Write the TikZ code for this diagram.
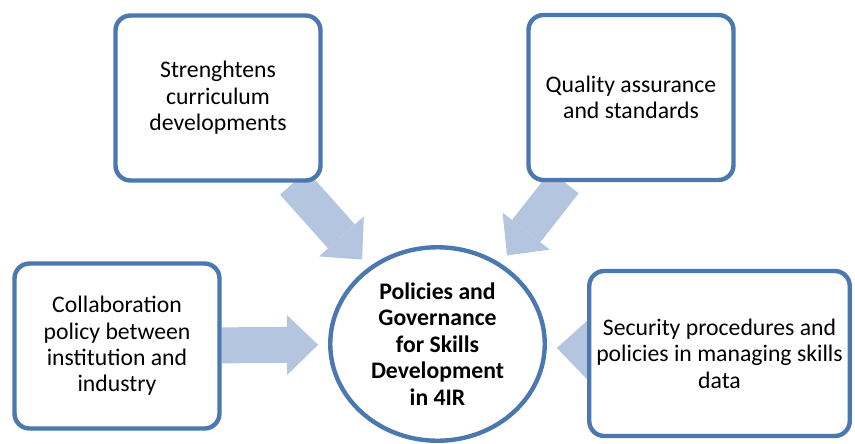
\documentclass[tikz,border=0pt]{standalone}
\usepackage{fontspec}
\setmainfont{Carlito}
\usetikzlibrary{shapes,arrows.meta,positioning,backgrounds}

\definecolor{boxblue}{RGB}{74,120,175}
\definecolor{flowblue}{RGB}{180,197,224}

\begin{document}
\begin{tikzpicture}[
    box/.style={rectangle, draw=boxblue, line width=2.5pt, fill=white, rounded corners=0.3cm, minimum width=4.1cm, minimum height=3.3cm, align=center, font=\fontsize{13.5}{15}\selectfont},
    hub/.style={ellipse, draw=boxblue, line width=2.5pt, fill=white, minimum width=4.29cm, minimum height=3.87cm, inner sep=0pt, align=center, font=\fontsize{13.5}{15}\selectfont\bfseries},
    flow/.style={draw=flowblue, line width=0.72cm, -{Triangle[length=0.62cm, width=1.2cm, line width=0pt]}, shorten >=0.2cm}
]
    \useasboundingbox (0,0) rectangle (17.1,-8.86);

    \node[box] (curr) at (4.36,-1.96) {Strenghtens\\curriculum\\developments};
    \node[box] (qual) at (12.62,-1.95) {Quality assurance\\and standards};
    \node[box] (collab) at (2.34,-6.92) {Collaboration\\policy between\\institution and\\industry};
    \node[box, minimum width=5.21cm] (secur) at (14.39,-7.07) {Security procedures and\\policies in managing skills\\data};
    \node[hub] (core) at (8.75,-6.88) {Policies and\\Governance\\for Skills\\Development\\in 4IR};

    \begin{scope}[on background layer]
        \draw[flow] (curr) -- (core);
        \draw[flow] (qual) -- (core);
        \draw[flow] (collab) -- (core);
        \draw[flow] (secur) -- (core);
    \end{scope}
\end{tikzpicture}
\end{document}
